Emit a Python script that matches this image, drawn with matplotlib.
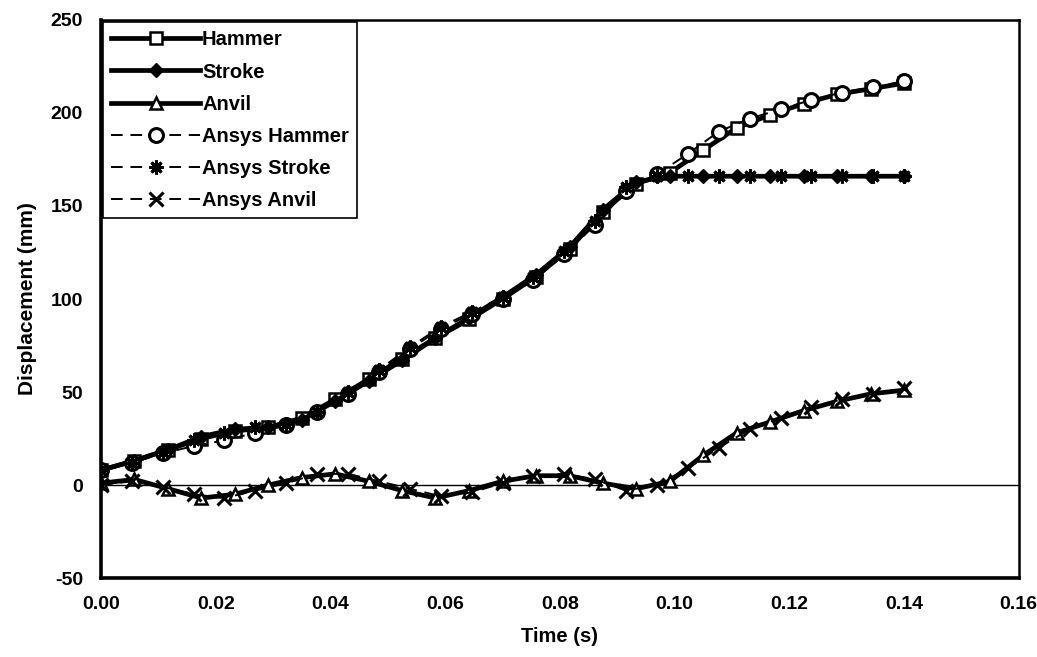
import matplotlib
matplotlib.use("Agg")
import matplotlib.pyplot as plt

plt.rcParams['font.family'] = ['Liberation Sans', 'DejaVu Sans']
plt.rcParams['font.weight'] = 'bold'
plt.rcParams['axes.unicode_minus'] = False

# measured (experimental) series
t_exp = [0.0, 0.0058, 0.0117, 0.0175, 0.0233, 0.0292, 0.035, 0.0408, 0.0467,
         0.0525, 0.0583, 0.0642, 0.07, 0.0758, 0.0817, 0.0875, 0.0933, 0.0992,
         0.105, 0.1108, 0.1167, 0.1225, 0.1283, 0.1342, 0.14]
hammer = [8, 13, 19, 25, 29, 31, 36, 46, 57, 68, 79, 89, 100, 112, 127, 147,
          162, 168, 180, 192, 199, 205, 210, 213, 216]
stroke = [8, 13, 19, 26, 30, 31, 35, 45, 56, 67, 79, 90, 101, 113, 128, 148,
          163, 166, 166, 166, 166, 166, 166, 166, 166]
anvil = [1, 3, -2, -7, -5, 0, 4, 6, 2, -3, -7, -3, 2, 5, 5, 1, -2, 2, 16, 28,
         34, 40, 45, 49, 51]

# ANSYS simulation series
t_ansys = [0.0, 0.0054, 0.0108, 0.0162, 0.0215, 0.0269, 0.0323, 0.0377, 0.0431,
           0.0485, 0.0538, 0.0592, 0.0646, 0.07, 0.0754, 0.0808, 0.0862, 0.0915,
           0.0969, 0.1023, 0.1077, 0.1131, 0.1185, 0.1238, 0.1292, 0.1346, 0.14]
ansys_hammer = [8, 12, 17, 21, 24, 28, 32, 39, 49, 61, 73, 84, 92, 100, 110,
                124, 140, 158, 167, 178, 190, 197, 202, 207, 211, 214, 217]
ansys_stroke = [8, 12, 18, 24, 28, 31, 33, 39, 50, 62, 74, 85, 93, 101, 112,
                126, 142, 160, 166, 166, 166, 166, 166, 166, 166, 166, 166]
ansys_anvil = [0, 2, -1, -5, -7, -3, 1, 6, 6, 2, -2, -6, -4, 1, 5, 6, 3, -3, 0,
               9, 20, 30, 36, 42, 46, 49, 52]

xticks = [0.0, 0.02, 0.04, 0.06, 0.08, 0.10, 0.12, 0.14, 0.16]
xticklabels = ['0.00', '0.02', '0.04', '0.06', '0.08', '0.10', '0.12', '0.14', '0.16']
yticks = [-50, 0, 50, 100, 150, 200, 250]

fig = plt.figure(figsize=(10.37, 6.57), dpi=100)
ax = fig.add_axes([0.0974, 0.1202, 0.885, 0.8494])

ax.axhline(0, color='black', lw=1.0, zorder=1)

solid = dict(color='black', lw=3.4, ms=9, mew=1.8)
ax.plot(t_exp, hammer, marker='s', mfc='white', label='Hammer', **solid)
ax.plot(t_exp, stroke, marker='D', mfc='black', label='Stroke', ms=7.5, color='black', lw=3.4)
ax.plot(t_exp, anvil, marker='^', mfc='white', label='Anvil', **solid)

dashed = dict(color='black', lw=1.4, ls=(0, (6, 4)), ms=10, mew=2.2)
ax.plot(t_ansys, ansys_hammer, marker='o', mfc='white', label='Ansys Hammer', **dashed)
ax.plot(t_ansys, ansys_stroke, marker=(8, 2, 0), label='Ansys Stroke', **dashed)
ax.plot(t_ansys, ansys_anvil, marker='x', label='Ansys Anvil', **dashed)

ax.set_xlim(0, 0.16)
ax.set_ylim(-50, 250)
ax.set_xticks(xticks)
ax.set_xticklabels(xticklabels)
ax.set_yticks(yticks)
ax.tick_params(labelsize=14, length=0, pad=13)
for lab in ax.get_xticklabels() + ax.get_yticklabels():
    lab.set_fontweight('bold')

ax.set_xlabel('Time (s)', fontsize=14.5, fontweight='bold', labelpad=10)
ax.set_ylabel('Displacement (mm)', fontsize=15, fontweight='bold', labelpad=10)

for side in ['left', 'bottom']:
    ax.spines[side].set_linewidth(2.6)
for side in ['top', 'right']:
    ax.spines[side].set_linewidth(1.8)

leg = ax.legend(loc='upper left', handlelength=4.4, handletextpad=0.1,
                labelspacing=0.65, borderaxespad=0.12, borderpad=0.4,
                fancybox=False, framealpha=1, edgecolor='black',
                prop={'weight': 'bold', 'size': 14.5})
leg.get_frame().set_linewidth(1.2)

fig.savefig('out.png', dpi=100)
